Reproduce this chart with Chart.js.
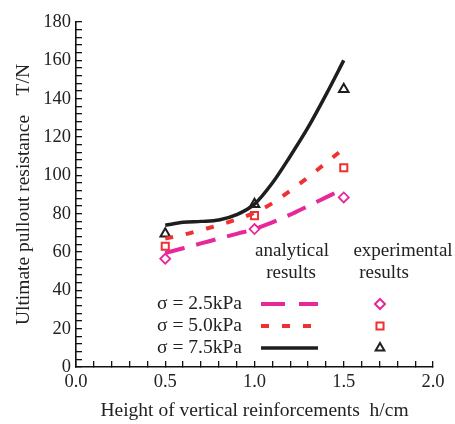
<!DOCTYPE html>
<html>
<head>
<meta charset="utf-8">
<script src="https://cdn.jsdelivr.net/npm/chart.js@4.4.0/dist/chart.umd.min.js"></script>
<style>
  body { margin: 0; background: #fff; }
  #wrap { width: 455px; height: 424px; }
</style>
</head>
<body>
<div id="wrap"><canvas id="pullout"></canvas></div>
<script>
// analytical curves
var heights = [0.5, 0.6, 0.7, 0.8, 0.9, 1.0, 1.1, 1.2, 1.3, 1.4, 1.5];
var analytic25 = [59.5, 62, 64.5, 67, 69.5, 72, 75.5, 79.5, 84, 88.5, 93];
var analytic50 = [67, 69, 71.5, 74, 77, 80.5, 85.5, 92, 99, 106.5, 114];
var analytic75 = [74, 75.5, 76, 76.7, 79.5, 85, 96, 110, 125, 142, 160];

// experimental points
var expHeights = [0.5, 1.0, 1.5];
var exp25 = [56.5, 72, 88.5];
var exp50 = [63, 79, 104];
var exp75 = [69.5, 85, 145];

var seriesLabels = ['σ = 2.5kPa', 'σ = 5.0kPa', 'σ = 7.5kPa'];
var xTicks = [0, 0.1, 0.2, 0.3, 0.4, 0.5, 0.6, 0.7, 0.8, 0.9, 1.0,
              1.1, 1.2, 1.3, 1.4, 1.5, 1.6, 1.7, 1.8, 1.9, 2.0];

var MAGENTA = '#e8279b';
var RED = '#ee3131';
var BLACK = '#1e1e1e';
var FONT = '"Liberation Serif", "DejaVu Serif", serif';

function pts(xs, ys) {
    var out = [];
    for (var i = 0; i < xs.length; i++) {
        out.push({ x: xs[i], y: ys[i] });
    }
    return out;
}

// legend block drawn inside the plot
var legendPlugin = {
    id: 'textLegend',
    afterDraw: function (chart) {
        var c = chart.ctx;
        c.save();
        c.font = '19px ' + FONT;
        c.fillStyle = '#222';
        c.textBaseline = 'middle';
        c.textAlign = 'center';
        c.fillText('analytical', 292, 251);
        c.fillText('results', 291, 273);
        c.fillText('experimental', 403, 251);
        c.fillText('results', 384, 273);

        var rowsY = [304, 326, 348];
        var colors = [MAGENTA, RED, BLACK];
        var dashes = [[24, 14], [8, 13], []];
        var widths = [4, 4, 3.5];
        var styles = ['rectRot', 'rect', 'triangle'];
        c.font = '19.5px ' + FONT;
        for (var i = 0; i < 3; i++) {
            c.textAlign = 'left';
            c.fillStyle = '#222';
            c.fillText(seriesLabels[i], 157, rowsY[i]);
            c.strokeStyle = colors[i];
            c.lineWidth = widths[i];
            c.setLineDash(dashes[i]);
            c.beginPath();
            c.moveTo(261, rowsY[i]);
            c.lineTo(318, rowsY[i]);
            c.stroke();
            c.setLineDash([]);
            c.lineWidth = 2;
            c.fillStyle = '#fff';
            Chart.helpers.drawPoint(c, { pointStyle: styles[i], radius: 5, rotation: 0, borderWidth: 2 }, 380, rowsY[i]);
        }
        c.restore();
    }
};

var el = document.getElementById('pullout');
new Chart(el, {
    type: 'scatter',
    data: {
        datasets: [
            {
                label: seriesLabels[0], data: pts(heights, analytic25), showLine: true,
                borderColor: MAGENTA, borderWidth: 4, borderDash: [20, 12], pointRadius: 0,
                cubicInterpolationMode: 'monotone', fill: false
            },
            {
                label: seriesLabels[1], data: pts(heights, analytic50), showLine: true,
                borderColor: RED, borderWidth: 4, borderDash: [8, 13], pointRadius: 0,
                cubicInterpolationMode: 'monotone', fill: false
            },
            {
                label: seriesLabels[2], data: pts(heights, analytic75), showLine: true,
                borderColor: BLACK, borderWidth: 3.5, pointRadius: 0,
                cubicInterpolationMode: 'monotone', fill: false
            },
            {
                label: 'exp 2.5', data: pts(expHeights, exp25), pointStyle: 'rectRot',
                pointRadius: 5, borderColor: MAGENTA, backgroundColor: '#fff', borderWidth: 1.8
            },
            {
                label: 'exp 5.0', data: pts(expHeights, exp50), pointStyle: 'rect',
                pointRadius: 5, borderColor: RED, backgroundColor: '#fff', borderWidth: 2
            },
            {
                label: 'exp 7.5', data: pts(expHeights, exp75), pointStyle: 'triangle',
                pointRadius: 5.5, borderColor: BLACK, backgroundColor: '#fff', borderWidth: 2
            }
        ]
    },
    options: {
        responsive: true,
        maintainAspectRatio: false,
        animation: false,
        layout: { padding: { top: 19, right: 22, left: 0, bottom: 0 } },
        plugins: {
            legend: { display: false },
            tooltip: { enabled: false }
        },
        scales: {
            x: {
                type: 'linear', min: 0, max: 2,
                grid: {
                    display: true, drawOnChartArea: false, drawTicks: true,
                    tickLength: -6, color: '#111', lineWidth: 1.3
                },
                border: { display: true, color: '#111', width: 1.6 },
                afterBuildTicks: function (scale) {
                    scale.ticks = xTicks.map(function (v) { return { value: v }; });
                },
                afterFit: function (scale) { scale.height = 57; },
                ticks: {
                    color: '#222', padding: 10, autoSkip: false, maxRotation: 0,
                    font: { family: FONT, size: 18.5 },
                    callback: function (v, i) { return i % 5 === 0 ? Number(v).toFixed(1) : ''; }
                },
                title: {
                    display: true, text: 'Height of vertical reinforcements  h/cm',
                    color: '#222', font: { family: FONT, size: 19.5 },
                    padding: { top: 0, bottom: 1 }
                }
            },
            y: {
                min: 0, max: 180,
                grid: {
                    display: true, drawOnChartArea: false, drawTicks: true,
                    tickLength: -6, color: '#111', lineWidth: 1.3
                },
                border: { display: true, color: '#111', width: 1.6 },
                afterFit: function (scale) { scale.width = 76; },
                ticks: {
                    stepSize: 4, color: '#222', padding: 11, autoSkip: false,
                    font: { family: FONT, size: 18.5 },
                    callback: function (v) { return v % 20 === 0 ? v : ''; }
                },
                title: {
                    display: true, text: 'Ultimate pullout resistance    T/N',
                    color: '#222', font: { family: FONT, size: 19.5 },
                    padding: { top: 12, bottom: 0 }
                }
            }
        }
    },
    plugins: [legendPlugin]
});
</script>
</body>
</html>
